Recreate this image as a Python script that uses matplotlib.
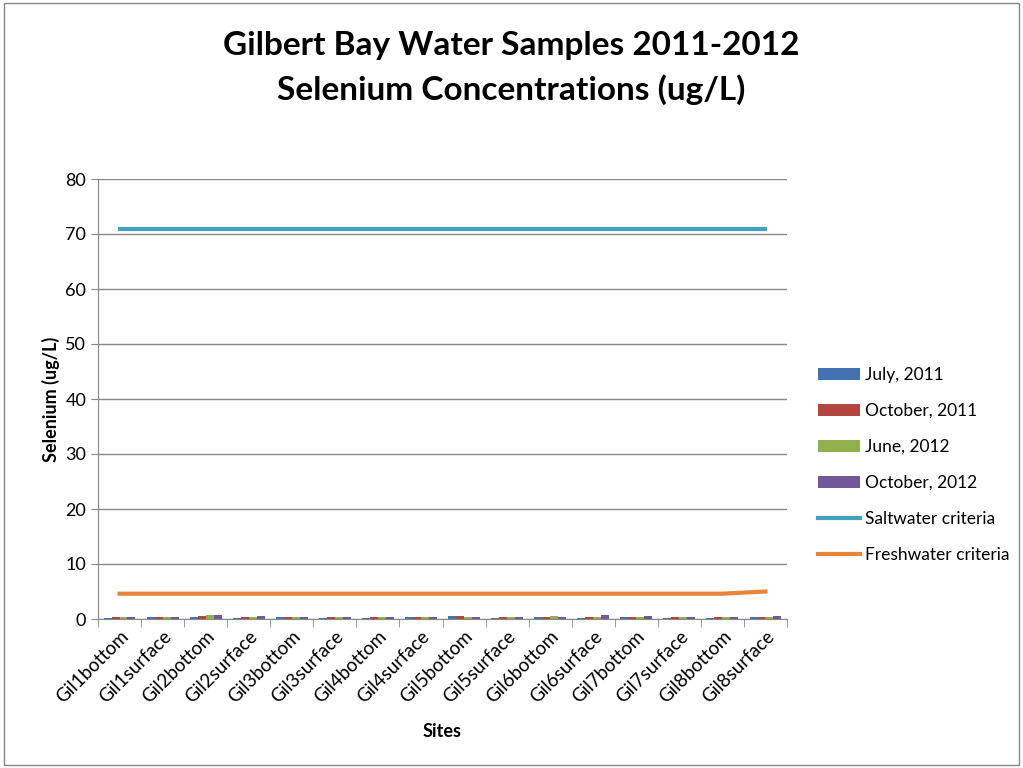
import numpy as np
import matplotlib
matplotlib.use("Agg")
import matplotlib.pyplot as plt
from matplotlib.patches import Rectangle

sites = ['Gil1bottom', 'Gil1surface', 'Gil2bottom', 'Gil2surface', 'Gil3bottom', 'Gil3surface',
         'Gil4bottom', 'Gil4surface', 'Gil5bottom', 'Gil5surface', 'Gil6bottom', 'Gil6surface',
         'Gil7bottom', 'Gil7surface', 'Gil8bottom', 'Gil8surface']
july_2011 = [0.2, 0.3, 0.3, 0.2, 0.3, 0.2, 0.2, 0.3, 0.5, 0.2, 0.3, 0.2, 0.3, 0.2, 0.2, 0.3]
oct_2011 = [0.3, 0.3, 0.5, 0.3, 0.3, 0.3, 0.3, 0.3, 0.5, 0.3, 0.3, 0.3, 0.3, 0.3, 0.3, 0.3]
june_2012 = [0.3, 0.3, 0.7, 0.3, 0.3, 0.3, 0.3, 0.3, 0.3, 0.3, 0.5, 0.3, 0.3, 0.3, 0.3, 0.3]
oct_2012 = [0.3, 0.3, 0.7, 0.5, 0.3, 0.3, 0.3, 0.3, 0.3, 0.3, 0.3, 0.7, 0.5, 0.3, 0.3, 0.6]
saltwater = [71] * 16
freshwater = [4.6] * 15 + [5.0]

series = [('July, 2011', july_2011, '#4272B0'),
          ('October, 2011', oct_2011, '#B3453F'),
          ('June, 2012', june_2012, '#8FB04C'),
          ('October, 2012', oct_2012, '#725898')]

plt.rcParams['font.family'] = ['Lato', 'DejaVu Sans']

fig = plt.figure(figsize=(10.23, 7.68), dpi=100)
fig.patches.append(Rectangle((0.004, 0.004), 0.992, 0.992, transform=fig.transFigure,
                             fill=False, edgecolor='#888888', linewidth=1))
ax = fig.add_axes([98 / 1023, 1 - 619 / 768, (787 - 98) / 1023, (619 - 179) / 768])

x = np.arange(len(sites))
w = 0.185
for i, (name, vals, col) in enumerate(series):
    ax.bar(x + (i - 1.5) * w, vals, width=w, color=col, label=name, zorder=3)

ax.plot(x, saltwater, color='#40A2BC', linewidth=3, label='Saltwater criteria', zorder=4)
ax.plot(x, freshwater, color='#E8853A', linewidth=3, label='Freshwater criteria', zorder=4)

ax.set_xlim(-0.5, len(sites) - 0.5)
ax.set_ylim(0, 80)
ax.set_yticks(range(0, 81, 10))
ax.yaxis.grid(True, color='#888888', linewidth=1)
ax.set_axisbelow(True)
for s in ['top', 'right']:
    ax.spines[s].set_visible(False)
for s in ['left', 'bottom']:
    ax.spines[s].set_color('#888888')
ax.tick_params(axis='y', length=5, color='#888888', labelsize=13, direction='out')

ax.set_xticks(x)
ax.set_xticklabels(sites, rotation=45, ha='right', rotation_mode='anchor', fontsize=13.5)
ax.tick_params(axis='x', length=0, pad=6)
ax.set_xticks(np.arange(-0.5, len(sites), 1), minor=True)
ax.tick_params(axis='x', which='minor', length=6, color='#888888', direction='out')

ax.set_xlabel('Sites', fontsize=13, fontweight='bold', labelpad=12)
ax.set_ylabel('Selenium (ug/L)', fontsize=13, fontweight='bold')

fig.text(0.5, 0.96, 'Gilbert Bay Water Samples 2011-2012\nSelenium Concentrations (ug/L)',
         ha='center', va='top', fontsize=24, fontweight='bold', linespacing=1.55)

handles, labels = ax.get_legend_handles_labels()
order = [2, 3, 4, 5, 0, 1]
ax.legend([handles[k] for k in order], [labels[k] for k in order],
          loc='center left', bbox_to_anchor=(1.035, 0.35), frameon=False, fontsize=12.5,
          handlelength=2.4, labelspacing=1.15, handletextpad=0.3, borderaxespad=0)

fig.savefig('out.png', dpi=100)
